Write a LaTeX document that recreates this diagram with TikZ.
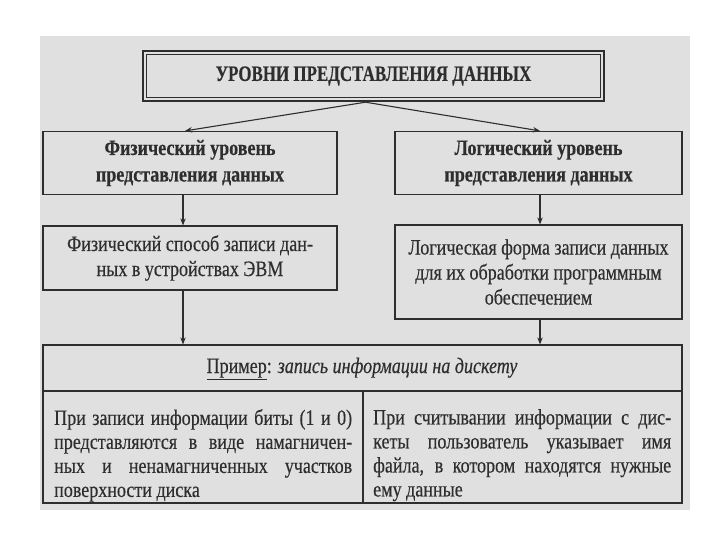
\documentclass[tikz,border=0pt]{standalone}
\usepackage{fontspec}
\setmainfont{Liberation Serif}[FakeStretch=0.82,FakeBold=0.35]
\newfontfamily\titlefont{Liberation Serif}[FakeStretch=0.77,FakeBold=0.35]
\usetikzlibrary{arrows.meta,calc}
\definecolor{paper}{gray}{0.88}
\definecolor{ink}{gray}{0.18}
\tikzset{
  box/.style={draw=ink, line width=1.2pt, inner sep=0pt, align=center, text=ink,
    font=\fontsize{22}{25}\selectfont},
  boldbox/.style={box, font=\bfseries\fontsize{22}{26.5}\selectfont},
  arr/.style={draw=ink, line width=1.1pt, -{Stealth[length=7pt,width=5.5pt]}},
  rule/.style={draw=ink, line width=1.2pt},
  celltext/.style={inner sep=0pt, text width=298pt, align=justify, text=ink,
    font=\fontsize{22}{24}\selectfont, anchor=north west},
}
\begin{document}
\begin{tikzpicture}[x=1pt,y=-1pt]
\useasboundingbox (0,0) rectangle (720,540);
\fill[paper] (40,36) rectangle (690,510);

% title
\node[box, line width=2.4pt, minimum width=461pt, minimum height=50pt,
  font=\titlefont\bfseries\fontsize{22}{25}\selectfont] (title) at (373.5,76) {УРОВНИ ПРЕДСТАВЛЕНИЯ ДАННЫХ};
\draw[draw=ink, line width=0.9pt] ([shift={(4.5pt,-4.5pt)}]title.north west) rectangle ([shift={(-4.5pt,4.5pt)}]title.south east);

% level boxes
\node[boldbox, minimum width=294pt, minimum height=63pt] (phys) at (190,163)
  {Физический уровень\\представления данных};
\node[boldbox, minimum width=287pt, minimum height=63pt] (logic) at (538.5,163)
  {Логический уровень\\представления данных};

% description boxes
\node[box, minimum width=294pt, minimum height=64pt] (physw) at (190,258)
  {Физический способ записи дан-\\ных в устройствах ЭВМ};
\node[box, minimum width=287pt, minimum height=94pt] (logicw) at (538.5,272)
  {Логическая форма записи данных\\для их обработки программным\\обеспечением};

% table
\node[rule, minimum width=639pt, minimum height=158pt, inner sep=0pt] (tbl) at (362.5,424) {};
\coordinate (hy) at (0,391);
\coordinate (vx) at (363,0);
\draw[rule] (tbl.west |- hy) -- (tbl.east |- hy);
\draw[rule] (vx |- hy) -- (vx |- tbl.south);

\node[text=ink, font=\fontsize{22}{24}\selectfont, anchor=base, inner sep=0pt] (hdr) at (362,373)
  {\underline{Пример}: \textit{запись информации на дискету}};

\node[celltext] (lt) at (54,409)
  {При записи информации биты (1 и 0)\linebreak
   представляются в виде намагничен-\linebreak
   ных и ненамагниченных участков\linebreak
   поверхности диска};
\node[celltext] (rt) at (373,409)
  {При считывании информации с дис-\linebreak
   кеты пользователь указывает имя\linebreak
   файла, в котором находятся нужные\linebreak
   ему данные};

% connectors
\coordinate (ts) at ($(title.south)+(-8,0)$);
\draw[arr] (ts) -- ($(phys.north)+(-5,0)$);
\draw[arr] (ts) -- ($(logic.north)+(1.5,0)$);
\coordinate (la) at ($(phys.south)+(-7,0)$);
\draw[arr] (la) -- (la |- physw.north);
\coordinate (ra) at ($(logic.south)+(1.5,0)$);
\draw[arr] (ra) -- (ra |- logicw.north);
\coordinate (lb) at ($(physw.south)+(-7,0)$);
\draw[arr] (lb) -- (lb |- tbl.north);
\coordinate (rb) at ($(logicw.south)+(1.5,0)$);
\draw[arr] (rb) -- (rb |- tbl.north);
\end{tikzpicture}
\end{document}
